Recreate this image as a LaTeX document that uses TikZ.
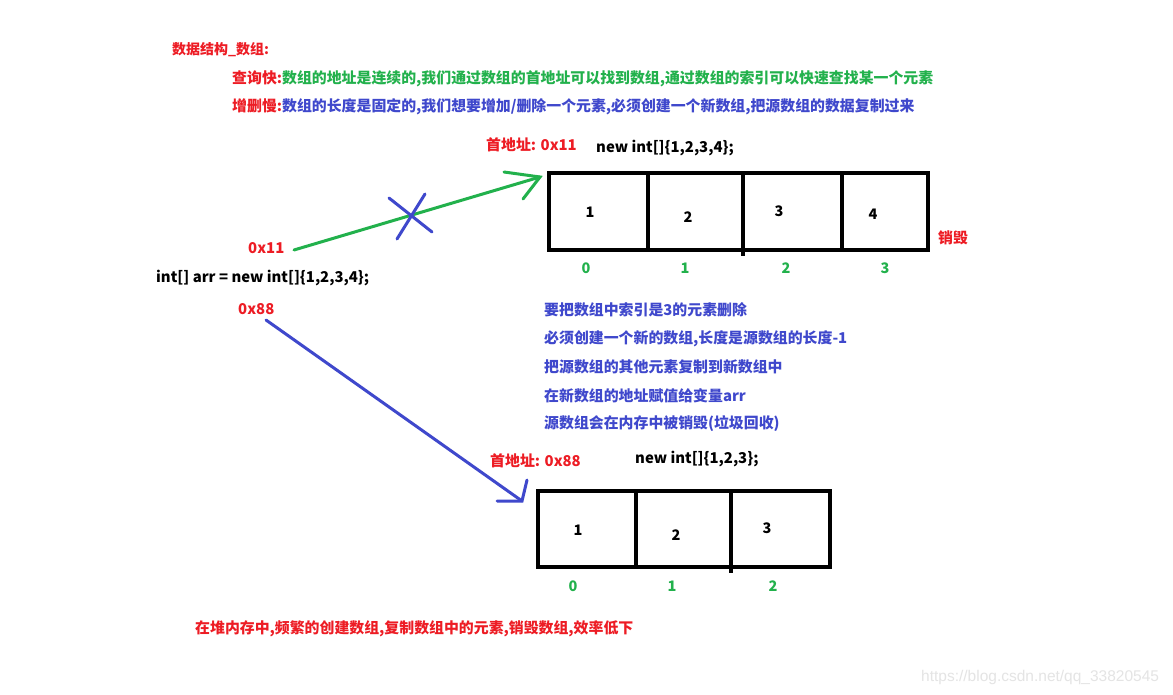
\documentclass[tikz,border=0pt]{standalone}
\usepackage{fontspec}
\setmainfont{Noto Sans CJK SC}
\newfontfamily\wmfont{Liberation Sans}
\definecolor{pred}{RGB}{237,28,36}
\definecolor{pgreen}{RGB}{34,177,76}
\definecolor{pblue}{RGB}{63,72,204}
\definecolor{wmgrey}{RGB}{228,228,228}
\begin{document}
\begin{tikzpicture}[x=1pt,y=-1pt,
  txt/.style={inner sep=0pt, anchor=west, font=\bfseries\fontsize{14.9}{17}\selectfont},
  num/.style={inner sep=0pt, font=\bfseries\fontsize{14.5}{17}\selectfont},
  idx/.style={num, text=pgreen},
  cellline/.style={line width=3.5pt, draw=black},
  garrow/.style={line width=3pt, draw=pgreen, line cap=round},
  barrow/.style={line width=3pt, draw=pblue, line cap=round}]
\useasboundingbox[fill=white] (0,0) rectangle (1173,695);

% header texts
\node[txt, text=pred, font=\bfseries\fontsize{14}{17}\selectfont] (title) at (172,50) {数据结构\_数组:};
\node[txt] (l1) at (232,79) {\textcolor{pred}{查询快:}\textcolor{pgreen}{数组的地址是连续的,我们通过数组的首地址可以找到数组,通过数组的索引可以快速查找某一个元素}};
\node[txt] (l2) at (232,107) {\textcolor{pred}{增删慢:}\textcolor{pblue}{数组的长度是固定的,我们想要增加/删除一个元素,必须创建一个新数组,把源数组的数据复制过来}};

% first array
\node[txt, text=pred] (addr1) at (486,145) {首地址: 0x11};
\node[txt] (new1) at (596,148) {new int[]\{1,2,3,4\};};
\draw[cellline] (549,173) rectangle (928,250);
\draw[cellline] (648,173) -- (648,250);
\draw[cellline] (743,173) -- (743,256);
\draw[cellline] (842,173) -- (842,250);
\node[num] (a1) at (590,212) {1};
\node[num] (a2) at (688,217) {2};
\node[num] (a3) at (779,211) {3};
\node[num] (a4) at (873,214) {4};
\node[txt, text=pred] (destroy) at (938,238) {销毁};
\node[idx] (i10) at (586,268) {0};
\node[idx] (i11) at (685,268) {1};
\node[idx] (i12) at (786,268) {2};
\node[idx] (i13) at (885,268) {3};

% variable
\node[txt, text=pred] (v11) at (248,248) {0x11};
\node[txt] (decl) at (156,278) {int[] arr = new int[]\{1,2,3,4\};};
\node[txt, text=pred] (v88) at (238,309) {0x88};

% green arrow (old reference)
\coordinate (gs) at (294,250);
\coordinate (gt) at (540,177);
\coordinate (gw1) at (504,172);
\coordinate (gw2) at (523,199);
\draw[garrow] (gs) -- (gt);
\draw[garrow] (gw1) -- (gt) -- (gw2);
% blue cross
\coordinate (x1a) at (389,198);
\coordinate (x1b) at (432,232);
\coordinate (x2a) at (425,194);
\coordinate (x2b) at (397,239);
\draw[barrow] (x1a) -- (x1b);
\draw[barrow] (x2a) -- (x2b);

% explanation
\node[txt, text=pblue] (e1) at (544,310) {要把数组中索引是3的元素删除};
\node[txt, text=pblue] (e2) at (544,339) {必须创建一个新的数组,长度是源数组的长度-1};
\node[txt, text=pblue] (e3) at (544,367) {把源数组的其他元素复制到新数组中};
\node[txt, text=pblue] (e4) at (544,396) {在新数组的地址赋值给变量arr};
\node[txt, text=pblue] (e5) at (544,424) {源数组会在内存中被销毁(垃圾回收)};

% blue arrow (new reference)
\coordinate (bs) at (266,320);
\coordinate (bt) at (522,501);
\coordinate (bw1) at (497,501);
\coordinate (bw2) at (527,480);
\draw[barrow] (bs) -- (bt);
\draw[barrow] (bw1) -- (bt) -- (bw2);

% second array
\node[txt, text=pred] (addr2) at (490,461) {首地址: 0x88};
\node[txt] (new2) at (635,459) {new int[]\{1,2,3\};};
\draw[cellline] (538,491) rectangle (830,567);
\draw[cellline] (636,491) -- (636,567);
\draw[cellline] (731,491) -- (731,573);
\node[num] (b1) at (578,530) {1};
\node[num] (b2) at (676,535) {2};
\node[num] (b3) at (767,528) {3};
\node[idx] (i20) at (573,586) {0};
\node[idx] (i21) at (672,586) {1};
\node[idx] (i22) at (773,586) {2};

% bottom
\node[txt, text=pred] (bottom) at (195,629) {在堆内存中,频繁的创建数组,复制数组中的元素,销毁数组,效率低下};
\node[inner sep=0pt, anchor=west, text=wmgrey, font=\wmfont\fontsize{15.5}{18}\selectfont] (wm) at (921,677) {https://blog.csdn.net/qq\_33820545};
\end{tikzpicture}
\end{document}
